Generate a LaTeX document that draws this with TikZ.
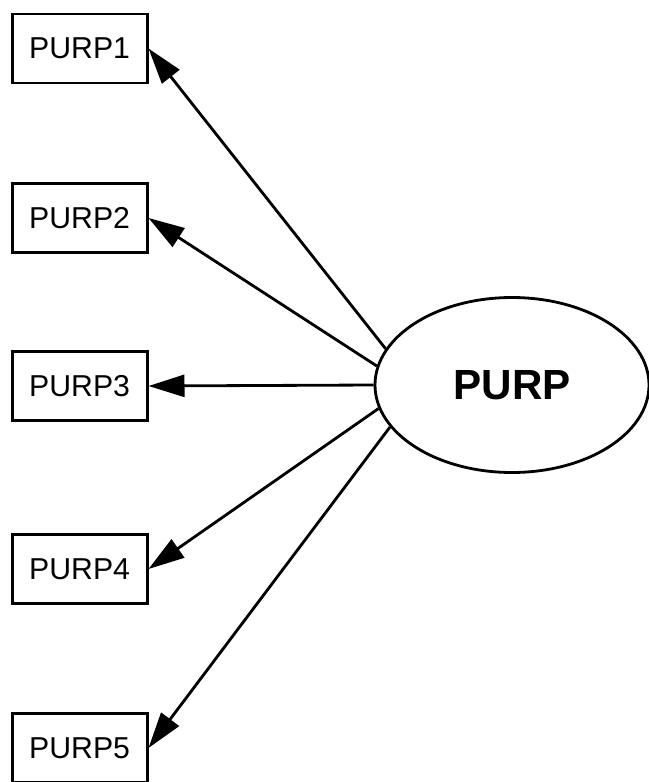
\documentclass[tikz,border=0pt]{standalone}
\usepackage{fontspec}
\setmainfont{Liberation Sans}
\usetikzlibrary{shapes.geometric,arrows.meta}
\begin{document}
\begin{tikzpicture}[
  item/.style={draw,line width=2pt,minimum width=3.375cm,minimum height=1.725cm,inner sep=0pt,font=\fontsize{21.5}{25}\selectfont},
  factor/.style={draw,ellipse,line width=2pt,minimum width=6.85cm,minimum height=4.375cm,inner sep=0pt,font=\bfseries\fontsize{30}{36}\selectfont},
  load/.style={line width=2pt,-{Triangle[length=0.9cm,width=0.55cm]}}]
\useasboundingbox (0,0) rectangle (16.2,-19.55);
\node[factor] (purp) at (12.8,-9.625) {PURP};
\foreach \i/\y/\a in {1/-1.2125/164,2/-5.45/172,3/-9.65/180,4/-14.225/190,5/-18.7/199}{
  \node[item] (purp\i) at (1.99,\y) {PURP\i};
  \draw[load] (purp.\a) -- (purp\i.east);
}
\end{tikzpicture}
\end{document}
